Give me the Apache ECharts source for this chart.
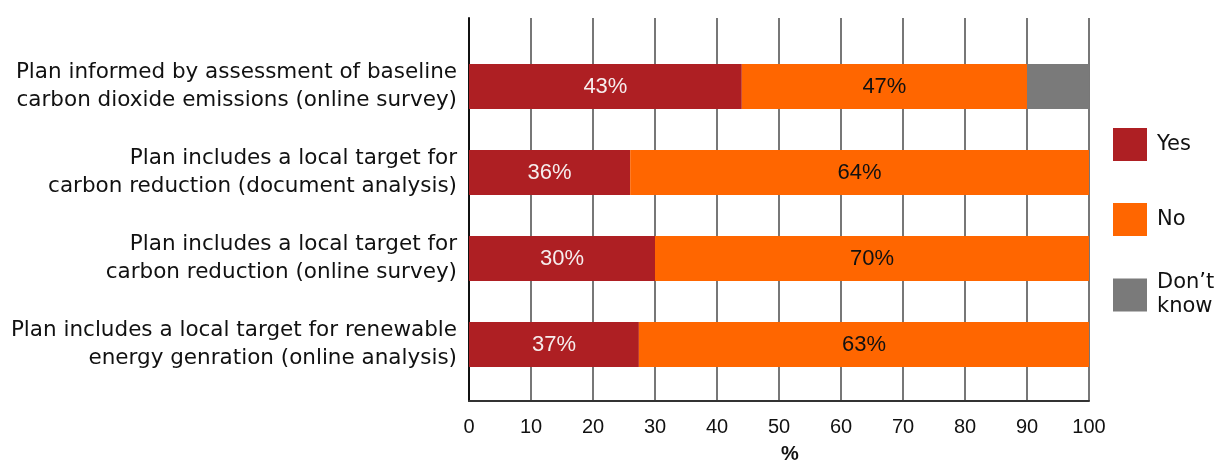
<!DOCTYPE html>
<html>
<head>
<meta charset="utf-8">
<script src="https://cdn.jsdelivr.net/npm/echarts@6/dist/echarts.min.js"></script>
<style>
html,body{margin:0;padding:0;background:#fff;}
#chart{width:1219px;height:462px;}
</style>
</head>
<body>
<div id="chart"></div>
<script>
var categories = [
  'Plan informed by assessment of baseline\ncarbon dioxide emissions (online survey)',
  'Plan includes a local target for\ncarbon reduction (document analysis)',
  'Plan includes a local target for\ncarbon reduction (online survey)',
  'Plan includes a local target for renewable\nenergy genration (online analysis)'
];
var seriesNames = ['Yes', 'No', "Don\u2019t know"];
// bar lengths as drawn in the picture
var yesValues = [44, 26, 30, 27.4];
var noValues = [46, 74, 70, 72.6];
var dontKnowValues = [10, 0, 0, 0];
// printed labels
var yesLabels = ['43%', '36%', '30%', '37%'];
var noLabels = ['47%', '64%', '70%', '63%'];
var xTicks = [0, 10, 20, 30, 40, 50, 60, 70, 80, 90, 100];

var FONT = '"Liberation Sans", Arial, sans-serif';
var TFONT = '"DejaVu Sans", sans-serif';
var chart = echarts.init(document.getElementById('chart'));
var L = 469, R = 1219 - 1089;

function legendCfg(name, top, extra) {
  var c = {
    data: [name], orient: 'vertical', left: 1108, top: top, itemWidth: 34, itemHeight: 33,
    icon: 'rect',
    textStyle: {color: '#111', fontSize: 21, lineHeight: 24, fontFamily: TFONT, padding: [0, 0, 0, 5]}
  };
  if (extra) { for (var k in extra) c[k] = extra[k]; }
  return c;
}

chart.setOption({
  animation: false,
  backgroundColor: '#fff',
  grid: [
    {left: L, right: R, top: 18, bottom: 61, containLabel: false, outerBoundsMode: 'none'},
    {left: L, right: R, top: 43.5, bottom: 74.5, containLabel: false, outerBoundsMode: 'none'}
  ],
  xAxis: [
    {
      gridIndex: 0, type: 'value', min: xTicks[0], max: xTicks[xTicks.length - 1], interval: 10,
      axisLine: {show: true, lineStyle: {color: '#333', width: 2}},
      axisTick: {show: false},
      splitLine: {show: true, lineStyle: {color: '#555', width: 1.6}},
      axisLabel: {color: '#111', fontSize: 20, fontFamily: FONT, margin: 16},
      name: '%', nameLocation: 'middle', nameGap: 43,
      nameTextStyle: {color: '#111', fontSize: 20, fontWeight: 'bold', fontFamily: FONT, padding: [0, 0, 0, 22]}
    },
    {gridIndex: 1, type: 'value', min: 0, max: 100, show: false}
  ],
  yAxis: [
    {
      gridIndex: 0, type: 'value', min: 0, max: 1,
      axisLine: {show: true, lineStyle: {color: '#111', width: 2}},
      axisTick: {show: false}, axisLabel: {show: false}, splitLine: {show: false}
    },
    {
      gridIndex: 1, type: 'category', data: categories, inverse: true,
      axisLine: {show: false}, axisTick: {show: false}, splitLine: {show: false},
      axisLabel: {color: '#111', fontSize: 21.5, fontFamily: TFONT, lineHeight: 28, margin: 12, align: 'right'}
    }
  ],
  legend: [
    legendCfg(seriesNames[0], 123),
    legendCfg(seriesNames[1], 198),
    legendCfg(seriesNames[2], 266, {formatter: function () { return 'Don\u2019t\nknow'; }})
  ],
  series: [
    {
      name: seriesNames[0], type: 'bar', stack: 't', xAxisIndex: 1, yAxisIndex: 1,
      data: yesValues, barWidth: 45, itemStyle: {color: '#ae1f23'},
      label: {show: true, position: 'inside', color: '#f6eded', fontSize: 22, fontFamily: FONT,
        formatter: function (p) { return yesLabels[p.dataIndex]; }}
    },
    {
      name: seriesNames[1], type: 'bar', stack: 't', xAxisIndex: 1, yAxisIndex: 1,
      data: noValues, barWidth: 45, itemStyle: {color: '#ff6600'},
      label: {show: true, position: 'inside', color: '#111', fontSize: 22, fontFamily: FONT,
        formatter: function (p) { return noLabels[p.dataIndex]; }}
    },
    {
      name: seriesNames[2], type: 'bar', stack: 't', xAxisIndex: 1, yAxisIndex: 1,
      data: dontKnowValues, barWidth: 45, itemStyle: {color: '#7a7a7a'},
      label: {show: false}
    }
  ]
});
</script>
</body>
</html>
